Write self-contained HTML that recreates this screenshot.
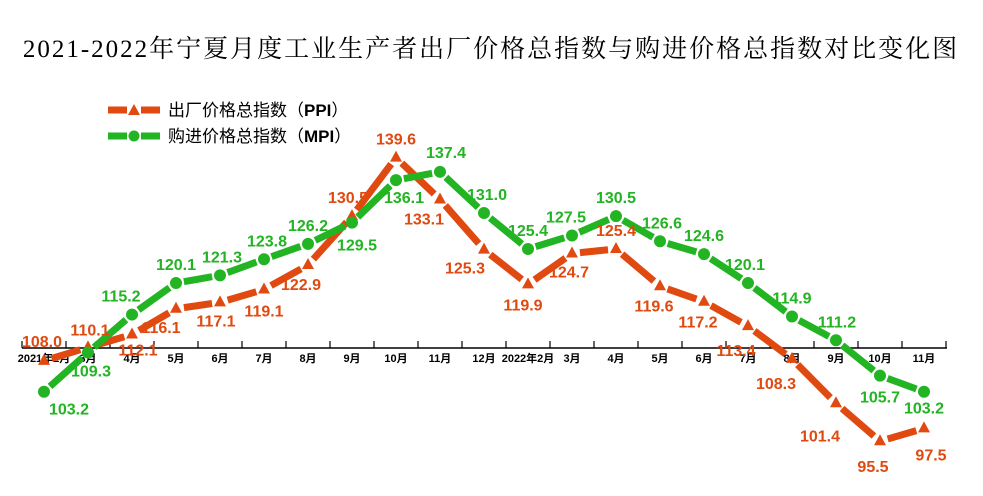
<!DOCTYPE html>
<html><head><meta charset="utf-8"><style>
body{margin:0;background:#fff;width:983px;height:491px;overflow:hidden}
svg text{font-family:"Liberation Sans","Noto Sans CJK SC",sans-serif}
</style></head><body>
<svg id="c" width="983" height="491" xmlns="http://www.w3.org/2000/svg">
<text x="491" y="57" text-anchor="middle" font-size="25" letter-spacing="2" style="font-family:'Liberation Serif','Noto Serif CJK SC',serif" fill="#000">2021-2022年宁夏月度工业生产者出厂价格总指数与购进价格总指数对比变化图</text>
<g>
<g>
<line x1="108" y1="110" x2="127" y2="110" stroke="#e04a10" stroke-width="7"/><line x1="141" y1="110" x2="160" y2="110" stroke="#e04a10" stroke-width="7"/>
<polygon points="134,104 140,115 128,115" fill="#e04a10"/>
<text x="168" y="116" font-size="17" fill="#000">出厂价格总指数（<tspan font-weight="bold">PPI</tspan>）</text></g>
<g>
<line x1="108" y1="136" x2="127" y2="136" stroke="#22b422" stroke-width="7"/><line x1="141" y1="136" x2="160" y2="136" stroke="#22b422" stroke-width="7"/>
<circle cx="134" cy="136" r="5.5" fill="#22b422"/>
<text x="168" y="142" font-size="17" fill="#000">购进价格总指数（<tspan font-weight="bold">MPI</tspan>）</text></g>
</g>
<g id="axis"></g><g id="lines"></g><g id="labels"></g>
</svg>
<script>
const categories=["2021年2月","3月","4月","5月","6月","7月","8月","9月","10月","11月","12月","2022年2月","3月","4月","5月","6月","7月","8月","9月","10月","11月"];
const ppiValues=[108.0,110.1,112.1,116.1,117.1,119.1,122.9,130.5,139.6,133.1,125.3,119.9,124.7,125.4,119.6,117.2,113.4,108.3,101.4,95.5,97.5];
const mpiValues=[103.2,109.3,115.2,120.1,121.3,123.8,126.2,129.5,136.1,137.4,131.0,125.4,127.5,130.5,126.6,124.6,120.1,114.9,111.2,105.7,103.2];
// label offsets (styling only)
const ppiOff=[[-2,-14],[2,-12],[6,21],[-15,24],[-4,24],[0,27],[-7,25],[-4,-13],[0,-13],[-16,25],[-19,24],[-5,26],[-3,24],[0,-13],[-6,25],[-6,26],[-12,30],[-16,30],[-16,38],[-7,31],[7,32]];
const mpiOff=[[25,23],[3,24],[-11,-13],[0,-13],[2,-13],[3,-13],[0,-13],[5,28],[8,23],[6,-14],[3,-13],[0,-13],[-6,-13],[0,-13],[2,-13],[0,-13],[-3,-13],[0,-13],[1,-13],[0,27],[0,22]];
const NS="http://www.w3.org/2000/svg";
const xS=i=>44+44*i, yS=v=>348-(v-110)*6.43;
function mk(t,a,p){const e=document.createElementNS(NS,t);for(const k in a)e.setAttribute(k,a[k]);p.appendChild(e);return e;}
const ax=document.getElementById('axis');
const al=mk('line',{x1:22,y1:348,x2:947,y2:348,stroke:'#000','stroke-width':1.5},ax);


for(let i=0;i<=categories.length;i++){const t=mk('line',{x1:22+44*i,y1:341,x2:22+44*i,y2:348,stroke:'#000','stroke-width':1.2},ax);

}
categories.forEach((c,i)=>{const t=mk('text',{x:xS(i),y:362,'text-anchor':'middle','font-size':11,'font-weight':'bold',fill:'#000'},ax);t.textContent=c;

});
function series(vals,col,name,tri,off){
 const g=mk('g',{},document.getElementById('lines'));
 
 
 for(let i=0;i<vals.length-1;i++){const x1=xS(i),y1=yS(vals[i]),x2=xS(i+1),y2=yS(vals[i+1]);const dx=x2-x1,dy=y2-y1,L=Math.hypot(dx,dy),gp=8/L;
  const s=mk('line',{x1:x1+dx*gp,y1:y1+dy*gp,x2:x2-dx*gp,y2:y2-dy*gp,stroke:col,'stroke-width':7},g);
  
  }
 vals.forEach((v,i)=>{const x=xS(i),y=yS(v);let m;
  if(tri)m=mk('polygon',{points:`${x},${y-7} ${x+6},${y+4} ${x-6},${y+4}`,fill:col},g);
  else m=mk('circle',{cx:x,cy:y,r:6,fill:col},g);
  
  
  const t=mk('text',{x:x+off[i][0],y:y+off[i][1],'text-anchor':'middle','font-size':16,'font-weight':'bold',fill:col},document.getElementById('labels'));
  t.textContent=v.toFixed(1);
  
  });
}
series(ppiValues,'#e04a10','ppi',true,ppiOff);
series(mpiValues,'#22b422','mpi',false,mpiOff);
</script>
</body></html>
